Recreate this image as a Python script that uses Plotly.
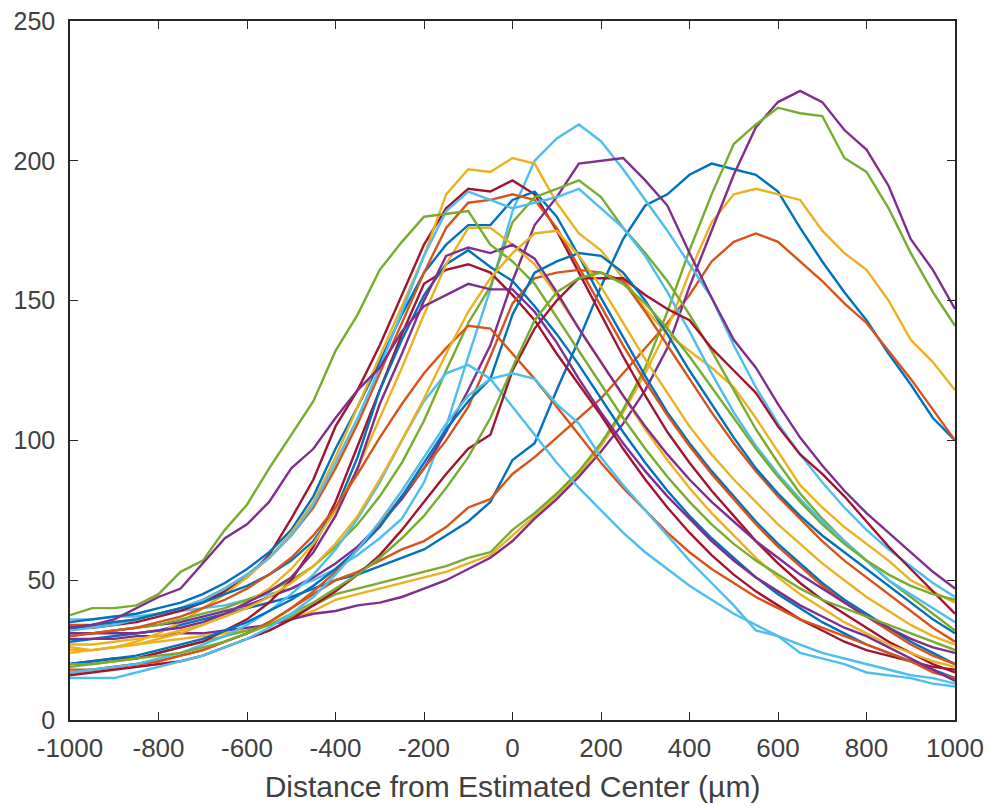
import plotly.graph_objects as go

# Sample positions (µm)
distance_um = [-1000, -950, -900, -850, -800, -750, -700, -650, -600, -550,
               -500, -450, -400, -350, -300, -250, -200, -150, -100, -50,
               0, 50, 100, 150, 200, 250, 300, 350, 400, 450,
               500, 550, 600, 650, 700, 750, 800, 850, 900, 950, 1000]

x_tick_vals = [-1000, -800, -600, -400, -200, 0, 200, 400, 600, 800, 1000]
x_tick_text = ["-1000", "-800", "-600", "-400", "-200", "0", "200", "400", "600", "800", "1000"]
y_tick_vals = [0, 50, 100, 150, 200, 250]
y_tick_text = ["0", "50", "100", "150", "200", "250"]

# Profiles (one per cell)
blue_R = [28,29,30,31,32,34,36,38,40,42,44,47,50,52,55,58,61,66,71,78,93,99,118,136,155,172,184,188,195,199,197,195,189,176,164,153,143,131,120,108,100]
orange_R = [17,18,19,20,21,23,25,28,31,35,40,45,50,53,57,61,64,69,76,79,88,94,101,108,115,124,133,142,152,164,171,174,171,164,157,149,142,132,122,111,100]
yellow_R = [24,25,26,27,28,29,30,31,32,34,36,39,43,45,47,49,51,53,56,59,66,73,80,88,98,110,124,140,160,178,188,190,188,186,175,167,161,150,136,128,118]
purple_R = [29,29,29,30,30,31,31,32,33,34,36,38,39,41,42,44,47,50,54,58,64,72,79,87,96,106,118,133,155,175,195,212,221,225,221,211,204,191,172,161,147]
green_R = [19,20,21,22,24,26,28,30,32,34,37,41,45,47,49,51,53,55,58,60,68,74,81,89,99,111,126,146,168,188,206,213,219,217,216,201,196,183,167,153,141]
lightblue_1 = [36,36,37,37,38,39,40,41,43,45,47,50,54,59,65,72,85,105,130,154,182,200,208,213,207,197,186,175,163,151,134,119,106,95,85,76,68,61,55,49,44]
darkred_1 = [33,33,34,35,37,39,42,46,51,59,72,86,105,118,134,152,170,183,190,189,193,188,175,160,145,130,116,103,92,82,73,64,56,49,43,38,33,28,24,20,17]

blue_1 = [35,36,37,38,40,42,45,49,54,60,68,80,97,112,128,145,160,170,177,177,186,189,180,166,151,137,123,110,99,89,80,71,63,56,49,43,38,33,28,24,20]
orange_1 = [34,34,35,36,38,40,43,47,52,58,66,76,90,106,124,142,160,176,185,186,188,186,176,162,148,134,121,109,98,88,79,70,62,55,48,42,37,32,27,23,20]
yellow_1 = [26,25,26,28,31,35,40,45,51,58,67,78,94,112,130,148,166,188,197,196,201,199,185,174,168,158,147,138,132,126,119,108,96,84,76,69,63,57,50,46,42]
purple_2 = [30,31,32,33,34,35,37,39,41,44,47,51,56,62,70,79,90,103,118,134,157,177,187,199,200,201,193,184,167,151,136,126,113,101,91,82,74,67,60,53,47]
green_2 = [31,31,32,33,34,36,38,40,43,46,50,55,62,70,80,92,107,125,142,155,178,187,190,193,187,176,167,157,145,132,118,104,92,81,72,64,57,50,44,38,32]
lightblue_2 = [32,33,34,36,38,40,43,47,52,58,66,77,92,108,126,146,166,182,189,186,183,185,187,190,183,176,166,153,139,124,110,98,88,79,71,64,57,50,45,40,35]
darkred_2 = [20,21,22,22,24,26,28,32,36,42,50,62,78,98,118,138,156,161,163,160,152,143,131,120,109,97,86,76,67,59,52,46,41,36,32,28,25,23,21,19,18]

blue_3 = [33,34,35,36,38,40,42,45,48,52,57,64,75,94,118,136,152,163,168,162,157,148,138,127,115,103,92,82,73,65,58,51,45,40,35,31,27,24,21,18,15]
orange_2 = [18,18,19,20,21,23,25,28,31,35,40,46,53,61,70,80,90,100,112,130,149,158,160,161,160,157,146,134,122,110,99,89,80,72,64,57,51,45,39,33,28]
yellow_2 = [25,25,26,27,29,31,34,38,42,47,54,63,75,90,108,126,145,163,176,176,170,163,152,140,128,116,104,93,83,74,66,58,51,45,40,35,31,27,24,21,19]
purple_1 = [31,31,31,31,32,33,35,38,42,46,51,60,73,90,113,131,150,166,169,167,170,165,153,140,128,116,105,95,86,78,71,64,58,52,47,42,37,33,29,26,24]
green_1 = [37.5,40,40,41,45,53,57,68,77,90,102,114,132,145,161,171,180,181,182,170,164,156,144,132,120,108,97,87,78,70,63,57,52,47,43,40,37,34,31,28,25]
lightblue_3 = [17,18,19,20,22,24,27,30,34,39,45,52,61,72,85,100,114,124,127,122,112,102,92,83,75,67,60,54,48,43,38,34,30,27,24,22,20,18,16,15,13]
darkred_3 = [16,17,18,19,20,21,23,26,29,32,36,41,46,52,59,68,78,88,97,102,125,140,150,158,158,158,152,147,143,133,125,117,105,95,88,80,71,62,54,46,38]

blue_4 = [20,21,22,23,25,27,29,32,35,39,43,48,54,61,69,80,92,104,114,122,145,160,164,167,166,160,150,138,125,113,101,90,81,73,66,60,54,48,42,36,31]
orange_3 = [30,31,32,33,35,37,40,43,47,52,58,66,76,88,101,113,124,133,141,140,131,122,112,102,92,83,75,67,60,54,49,44,40,36,33,30,27,24,21,17,15]
yellow_3 = [27,27,28,29,30,32,34,37,40,44,49,55,63,73,86,100,115,131,146,158,167,174,175,166,155,142,129,117,105,95,86,78,70,63,56,50,44,39,34,30,27]
purple_3 = [33,34,36,40,44,47,56,65,70,78,90,97,108,118,126,139,148,152,156,154,154,146,135,122,110,99,89,80,72,64,57,51,46,41,37,33,30,26,22,18,14]
green_3 = [20,20,21,22,23,24,26,28,31,34,38,42,47,52,58,65,73,83,94,108,126,143,153,158,160,156,149,140,130,119,108,97,87,78,70,63,57,52,48,45,43]
lightblue_4 = [15,15,15,17,19,21,23,26,29,33,38,44,52,61,71,82,94,106,116,122,124,122,113,106,94,84,75,66,57,49,41,32,30,24,22,20,17,16,15,13,12]

series = [blue_R, orange_R, yellow_R, purple_R, green_R, lightblue_1, darkred_1,
          blue_1, orange_1, yellow_1, purple_2, green_2, lightblue_2, darkred_2,
          blue_3, orange_2, yellow_2, purple_1, green_1, lightblue_3, darkred_3,
          blue_4, orange_3, yellow_3, purple_3, green_3, lightblue_4]

color_order = ["#0072BD", "#D95319", "#EDB120", "#7E2F8E", "#77AC30", "#4DBEEE", "#A2142F"]

fig = go.Figure()
for i, ys in enumerate(series):
    fig.add_trace(go.Scatter(
        x=distance_um, y=ys, mode="lines",
        line=dict(color=color_order[i % 7], width=2.4),
        showlegend=False, hoverinfo="skip"))

axis_color = "#262626"
label_color = "#404040"
font_family = "Liberation Sans, Arial, Helvetica, sans-serif"

fig.update_layout(
    width=989, height=808,
    margin=dict(l=70, r=34, t=21, b=88),
    paper_bgcolor="white", plot_bgcolor="white",
    font=dict(family=font_family, color=label_color, size=25),
)
fig.update_xaxes(
    range=[-1000, 1000], tickvals=x_tick_vals, ticktext=x_tick_text,
    ticks="inside", ticklen=8, tickwidth=1.3, tickcolor=axis_color,
    showline=True, linecolor=axis_color, linewidth=1.5, mirror="ticks",
    showgrid=False, zeroline=False, ticklabelstandoff=4, automargin=False,
    tickfont=dict(size=26, color=label_color),
    title=dict(text="Distance from Estimated Center (µm)",
               font=dict(size=30, color=label_color), standoff=14),
)
fig.update_yaxes(
    range=[0, 250], tickvals=y_tick_vals, ticktext=y_tick_text,
    ticks="inside", ticklen=8, tickwidth=1.3, tickcolor=axis_color,
    showline=True, linecolor=axis_color, linewidth=1.5, mirror="ticks",
    showgrid=False, zeroline=False, ticklabelstandoff=8, automargin=False,
    tickfont=dict(size=25, color=label_color),
)

fig.write_html("out.html")
